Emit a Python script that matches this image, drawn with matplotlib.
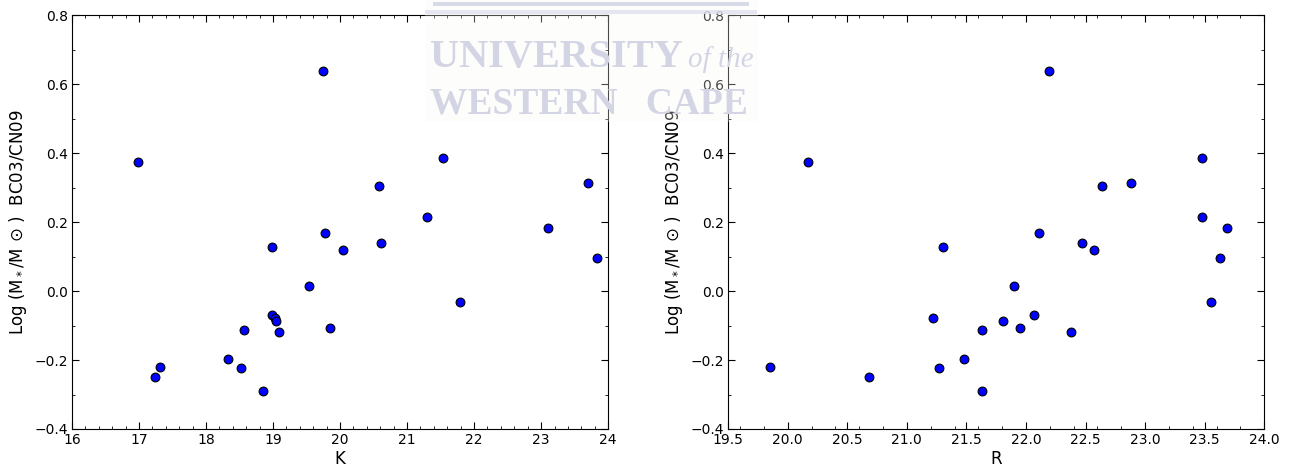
import numpy as np
import matplotlib
matplotlib.use('Agg')
import matplotlib.pyplot as plt
from matplotlib.ticker import MultipleLocator
from matplotlib.patches import Rectangle

# stellar mass ratio log(M*/Msun) BC03/CN09, one entry per galaxy
mass_ratio = [0.374, 0.639, -0.250, -0.219, -0.196, -0.222, -0.113, -0.290,
              0.127, -0.068, -0.077, -0.088, -0.120, 0.014, 0.168, -0.107,
              0.119, 0.305, 0.138, 0.215, 0.386, -0.031, 0.183, 0.314, 0.095]
k_mag = [16.98, 19.75, 17.24, 17.31, 18.33, 18.52, 18.57, 18.85,
         18.98, 18.99, 19.03, 19.05, 19.09, 19.54, 19.78, 19.85,
         20.04, 20.58, 20.61, 21.30, 21.54, 21.79, 23.11, 23.70, 23.84]
r_mag = [20.17, 22.19, 20.68, 19.85, 21.48, 21.27, 21.63, 21.63,
         21.30, 22.07, 21.22, 21.81, 22.38, 21.90, 22.11, 21.95,
         22.57, 22.64, 22.47, 23.48, 23.48, 23.55, 23.69, 22.88, 23.63]

ylab = r'Log (M$_*$/M$\,\odot\,$)  BC03/CN09'

fig = plt.figure(figsize=(12.98, 4.66), dpi=100)
ax1 = fig.add_axes([0.0555, 0.0794, 0.413, 0.888])
ax2 = fig.add_axes([0.561, 0.0794, 0.413, 0.888])

panels = [(ax1, k_mag, 'K', (16, 24), 1.0),
          (ax2, r_mag, 'R', (19.5, 24.0), 0.5)]

for ax, mag, name, xlim, xstep in panels:
	ax.scatter(mag, mass_ratio, s=40, c='blue', edgecolors='black', linewidths=0.8, zorder=3)
	ax.set_xlim(*xlim)
	ax.set_ylim(-0.4, 0.8)
	ax.xaxis.set_major_locator(MultipleLocator(xstep))
	ax.xaxis.set_minor_locator(MultipleLocator(0.2))
	ax.yaxis.set_major_locator(MultipleLocator(0.2))
	ax.yaxis.set_minor_locator(MultipleLocator(0.1))
	ax.tick_params(which='both', direction='in', top=True, right=True, labelsize=10, pad=3)
	ax.tick_params(which='major', length=5)
	ax.tick_params(which='minor', length=2.5)
	ax.set_xlabel(name, fontsize=12, labelpad=2)
	ax.set_ylabel(ylab, fontsize=12)

# faded university watermark sitting over the top of the figure
fig.patches.append(Rectangle((425/1298, 1-122/466), 333/1298, 122/466, transform=fig.transFigure,
                             facecolor='#fbfbf3', alpha=0.3, edgecolor='none', zorder=5))
fig.patches.append(Rectangle((433/1298, 1-6/466), 316/1298, 4/466, transform=fig.transFigure,
                             facecolor='#d8dae8', edgecolor='none', zorder=6))
fig.patches.append(Rectangle((425/1298, 1-14/466), 332/1298, 4/466, transform=fig.transFigure,
                             facecolor='#dfe1ed', alpha=0.8, edgecolor='none', zorder=6))
wm = dict(family='Liberation Serif', weight='bold', color='#d3d5e5', zorder=7)
fig.text(430/1298, 1-67/466, 'UNIVERSITY', fontsize=29, **wm)
fig.text(688/1298, 1-67/466, 'of the', fontsize=21, style='italic',
         family='Liberation Serif', color='#d3d5e5', zorder=7)
fig.text(430/1298, 1-113/466, 'WESTERN   CAPE', fontsize=27, **wm)

fig.savefig('out.png', dpi=100)
